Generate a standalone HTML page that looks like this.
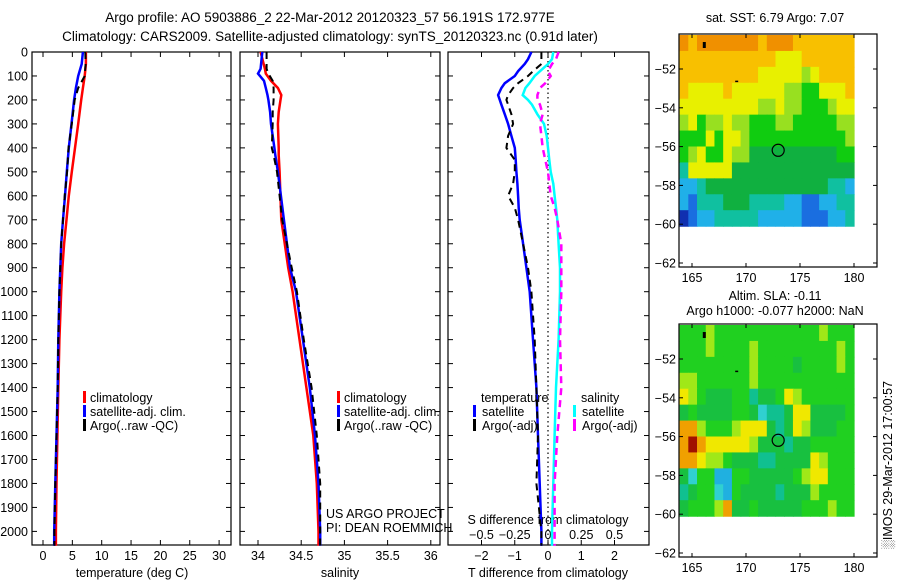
<!DOCTYPE html>
<html><head><meta charset="utf-8">
<style>
html,body{margin:0;padding:0;background:#fff;}
svg{display:block;font-family:"Liberation Sans",sans-serif;}
text{fill:#000;}
</style></head>
<body>
<svg id="fig" width="900" height="580" viewBox="0 0 900 580">
<text x="330" y="22" font-size="13.5" text-anchor="middle">Argo profile: AO 5903886_2 22-Mar-2012 20120323_57 56.191S 172.977E</text>
<text x="330" y="41" font-size="13.5" text-anchor="middle">Climatology: CARS2009. Satellite-adjusted climatology: synTS_20120323.nc (0.91d later)</text>
<g id="g"></g>
</svg>
<script>
// ---------- data ----------
const depthT = [0,50,100,150,200,300,400,500,600,700,800,900,1000,1200,1400,1600,1800,2000,2060];
const tempClim = [7.3,7.3,7.1,6.8,6.5,6.0,5.45,4.9,4.4,4.0,3.6,3.3,3.1,2.8,2.6,2.45,2.3,2.2,2.2];
const tempSat  = [6.8,6.6,6.0,5.6,5.3,4.85,4.4,4.05,3.75,3.4,3.1,2.95,2.8,2.6,2.5,2.3,2.1,1.9,1.9];
const tempArgo = [7.2,7.25,7.1,6.0,5.4,4.9,4.35,4.1,3.7,3.4,3.1,2.95,2.8,2.6,2.5,2.3,2.1,1.95,1.95];
const depthS = [0,70,90,120,150,180,200,250,300,400,430,500,700,900,1000,1200,1400,1600,1800,2000,2060];
const salClim = [34.03,34.08,34.09,34.15,34.23,34.27,34.26,34.24,34.23,34.24,34.24,34.25,34.27,34.35,34.4,34.48,34.56,34.64,34.68,34.70,34.70];
const salSat  = [34.05,34.03,34.0,34.07,34.09,34.11,34.12,34.14,34.15,34.19,34.2,34.23,34.3,34.37,34.44,34.52,34.6,34.66,34.7,34.72,34.72];
const salArgo = [34.1,34.1,34.12,34.17,34.18,34.18,34.18,34.17,34.17,34.16,34.18,34.22,34.28,34.39,34.45,34.53,34.62,34.68,34.72,34.72,34.72];
const depthD = [0,30,50,80,100,130,150,180,200,220,260,300,350,400,450,500,550,600,650,700,800,900,1000,1200,1400,1600,1800,2000,2060];
const dTsat  = [-0.5,-0.6,-0.7,-0.9,-1.0,-1.3,-1.4,-1.5,-1.45,-1.4,-1.3,-1.2,-1.1,-1.0,-0.97,-0.95,-0.92,-0.9,-0.88,-0.85,-0.75,-0.65,-0.55,-0.45,-0.35,-0.3,-0.25,-0.2,-0.2];
const dTargo = [-0.2,-0.2,-0.2,-0.45,-0.6,-0.9,-1.05,-1.2,-1.25,-1.2,-1.1,-1.05,-1.2,-1.25,-1.0,-1.0,-1.05,-1.2,-1.0,-0.9,-0.75,-0.6,-0.5,-0.4,-0.35,-0.3,-0.35,-0.2,-0.2];
const dSsat  = [0.04,0.03,0.0,-0.06,-0.1,-0.14,-0.17,-0.19,-0.15,-0.12,-0.08,-0.03,-0.01,0.0,0.01,0.02,0.04,0.05,0.06,0.07,0.08,0.09,0.09,0.08,0.06,0.05,0.04,0.03,0.03];
const dSargo = [0.08,0.06,0.03,0.0,0.02,-0.02,-0.06,-0.08,-0.08,-0.06,-0.04,-0.06,-0.05,-0.04,-0.02,0.0,0.01,0.02,0.05,0.07,0.1,0.1,0.1,0.09,0.1,0.07,0.05,0.05,0.05];
const depthTicks = [0,100,200,300,400,500,600,700,800,900,1000,1100,1200,1300,1400,1500,1600,1700,1800,1900,2000];
const tempTicks = [0,5,10,15,20,25,30];
const salTicks = [34,34.5,35,35.5,36];
const salTickLabels = ["34","34.5","35","35.5","36"];
const dTTicks = [-2,-1,0,1,2];
const dSTicks = [-0.5,-0.25,0,0.25,0.5];
const lonTicks = [165,170,175,180];
const latTicks = [-52,-54,-56,-58,-60,-62];
// map grids (20 cols x 12 rows, colour level 0-9)
const sstGrid = [
"98999999989998888888","88888888888777888888","88888888877777678888","87777877777766557778",
"77777777766766555677","67566766555665555566","55575776555555555556","56755766444444444455",
"37777744444444444444","22344444444444444332","21333444333322112233","01223333322222111223"];
const slaGrid = [
"55565555555555556555","55565555655555555565","55555555655554555565","66555555655555555555",
"76544455344576555555","45444455423347744445","88655567774347644455","89877777644434455555",
"88766544433444476555","42551155444445677555","34552154444344465555","45556844544444555655"];
const sstColors = ["#1030b0","#1a6ee0","#20b0e8","#10c0a0","#10b040","#10cc10","#98e020","#e8f000","#f8c000","#f09000"];
const slaColors = ["#1060e0","#20b0e0","#30d0d0","#10c090","#18c040","#20d020","#a0e818","#f0e800","#f0a000","#a01000"];

// ---------- helpers ----------
const NS="http://www.w3.org/2000/svg";
const G=document.getElementById('g');
function mk(tag,attrs,parent){const e=document.createElementNS(NS,tag);for(const k in attrs)e.setAttribute(k,attrs[k]);(parent||G).appendChild(e);return e;}
const Y0=52, DY=0.2397;
function yD(d){return Y0+d*DY;}
const BOT=545;

function panel(x0,x1,name){
  const r=mk('rect',{x:x0,y:Y0,width:x1-x0,height:BOT-Y0,fill:'none',stroke:'#000','stroke-width':1.2});
  
  
  depthTicks.forEach(d=>{
    mk('line',{x1:x0,x2:x0+5,y1:yD(d),y2:yD(d),stroke:'#000'});
    mk('line',{x1:x1-5,x2:x1,y1:yD(d),y2:yD(d),stroke:'#000'});
  });
}
function line(xs,ds,fx,color,dash,name,w){
  const pts=xs.map((v,i)=>fx(v).toFixed(1)+','+yD(ds[i]).toFixed(1)).join(' ');
  const p=mk('polyline',{points:pts,fill:'none',stroke:color,'stroke-width':w||2.5});
  if(dash)p.setAttribute('stroke-dasharray',dash);
  
  
}
function txt(x,y,s,anchor,size,name){
  const t=mk('text',{x:x,y:y,'font-size':size||12.5,'text-anchor':anchor||'start'});
  t.textContent=s;
  
  
  return t;
}
function legBar(x,y,color,name){
  const r=mk('rect',{x:x,y:y-10,width:3,height:12,fill:color});
  
  
}

// ---------- panel 1: temperature ----------
const xT=v=>43+v*5.87;
panel(32,231,'temperature-panel');
depthTicks.forEach(d=>txt(28,yD(d)+4.5,String(d),'end',12.5,'depth-tick-label'));
tempTicks.forEach(v=>{mk('line',{x1:xT(v),x2:xT(v),y1:BOT,y2:BOT-5,stroke:'#000'});mk('line',{x1:xT(v),x2:xT(v),y1:Y0,y2:Y0+5,stroke:'#000'});txt(xT(v),560,String(v),'middle',12.5,'temp-tick-label');});
txt(132,577,'temperature (deg C)','middle',12.5,'temp-axis-title');
line(tempClim,depthT,xT,'#f00',null,'temp-climatology-line');
line(tempSat,depthT,xT,'#00f',null,'temp-satellite-line');
line(tempArgo,depthT,xT,'#000','7,5','temp-argo-line',2);
legBar(83,401,'#f00','legend-climatology-swatch');txt(90,402,'climatology','start',12.5,'legend-climatology');
legBar(83,415,'#00f','legend-sat-swatch');txt(90,416,'satellite-adj. clim.','start',12.5,'legend-sat');
legBar(83,429,'#000','legend-argo-swatch');txt(90,430,'Argo(..raw -QC)','start',12.5,'legend-argo');

// ---------- panel 2: salinity ----------
const xS=v=>258+(v-34)*86.4;
panel(240,440,'salinity-panel');
salTicks.forEach((v,i)=>{mk('line',{x1:xS(v),x2:xS(v),y1:BOT,y2:BOT-5,stroke:'#000'});mk('line',{x1:xS(v),x2:xS(v),y1:Y0,y2:Y0+5,stroke:'#000'});txt(xS(v),560,salTickLabels[i],'middle',12.5,'sal-tick-label');});
txt(340,577,'salinity','middle',12.5,'sal-axis-title');
line(salClim,depthS,xS,'#f00',null,'sal-climatology-line');
line(salSat,depthS,xS,'#00f',null,'sal-satellite-line');
line(salArgo,depthS,xS,'#000','7,5','sal-argo-line',2);
legBar(337,401,'#f00','legend2-climatology-swatch');txt(344,402,'climatology','start',12.5,'legend2-climatology');
legBar(337,415,'#00f','legend2-sat-swatch');txt(344,416,'satellite-adj. clim.','start',12.5,'legend2-sat');
legBar(337,429,'#000','legend2-argo-swatch');txt(344,430,'Argo(..raw -QC)','start',12.5,'legend2-argo');
txt(326,518,'US ARGO PROJECT','start',12.5,'project-label');
txt(326,532,'PI: DEAN ROEMMICH','start',12.5,'pi-label');

// ---------- panel 3: differences ----------
const xDT=v=>548+v*33.25;
const xDS=v=>548+v*133;
panel(448,649,'difference-panel');
mk('line',{x1:548,x2:548,y1:Y0,y2:BOT,stroke:'#000','stroke-dasharray':'1.5,3','stroke-width':1.2});
dTTicks.forEach(v=>{mk('line',{x1:xDT(v),x2:xDT(v),y1:BOT,y2:BOT-5,stroke:'#000'});mk('line',{x1:xDT(v),x2:xDT(v),y1:Y0,y2:Y0+5,stroke:'#000'});txt(xDT(v),560,v<0?'\u2212'+Math.abs(v):String(v),'middle',12.5,'dt-tick-label');});
dSTicks.forEach(v=>txt(xDS(v),539,v<0?'\u2212'+Math.abs(v):String(v),'middle',12.5,'ds-tick-label'));
txt(548,524,'S difference from climatology','middle',12.5,'ds-axis-title');
txt(548,577,'T difference from climatology','middle',12.5,'dt-axis-title');
line(dTsat,depthD,xDT,'#00f',null,'dt-satellite-line');
line(dTargo,depthD,xDT,'#000','7,5','dt-argo-line',2);
line(dSsat,depthD,xDS,'#0ff',null,'ds-satellite-line');
line(dSargo,depthD,xDS,'#f0f','7,5','ds-argo-line',2.5);
txt(481,402,'temperature','start',12.5,'legend3-temp-title');
legBar(473,415,'#00f','legend3-tsat-swatch');txt(482,416,'satellite','start',12.5,'legend3-tsat');
legBar(473,429,'#000','legend3-targo-swatch');txt(482,430,'Argo(-adj)','start',12.5,'legend3-targo');
txt(581,402,'salinity','start',12.5,'legend3-sal-title');
legBar(573,415,'#0ff','legend3-ssat-swatch');txt(582,416,'satellite','start',12.5,'legend3-ssat');
legBar(573,429,'#f0f','legend3-sargo-swatch');txt(582,430,'Argo(-adj)','start',12.5,'legend3-sargo');

// ---------- maps ----------
function map(top,grid,colors,name){
  const L=679,R=877,B=top+233;
  const xLon=v=>692+(v-165)*10.8;
  const yl=s=>top+35+(s-52)*19.4;   // s = degrees south
  const gx0=xLon(163.85), gx1=xLon(180), gy0=top+1, gy1=yl(60.1);
  const cw=(gx1-gx0)/20, ch=(gy1-gy0)/12;
  const g=mk('g',{});
  
  
  grid.forEach((row,r)=>{for(let c=0;c<row.length;c++){
    mk('rect',{x:(gx0+c*cw).toFixed(2),y:(gy0+r*ch).toFixed(2),width:(cw+0.6).toFixed(2),height:(ch+0.6).toFixed(2),fill:colors[+row[c]]},g);
  }});
  const fr=mk('rect',{x:L,y:top,width:R-L,height:B-top,fill:'none',stroke:'#000','stroke-width':1.2});
  
  
  lonTicks.forEach(v=>{mk('line',{x1:xLon(v),x2:xLon(v),y1:B,y2:B-4,stroke:'#000'});mk('line',{x1:xLon(v),x2:xLon(v),y1:top,y2:top+4,stroke:'#000'});txt(xLon(v),B+15,String(v),'middle',12.5,name+'-lon-label');});
  latTicks.forEach(v=>{mk('line',{x1:L,x2:L+4,y1:yl(-v),y2:yl(-v),stroke:'#000'});mk('line',{x1:R-4,x2:R,y1:yl(-v),y2:yl(-v),stroke:'#000'});txt(676,yl(-v)+4.5,'\u2212'+Math.abs(v),'end',12.5,name+'-lat-label');});
  const c=mk('circle',{cx:xLon(172.98),cy:yl(56.19),r:6,fill:'none',stroke:'#000','stroke-width':1.2});
  
  
  mk('rect',{x:xLon(166),y:top+8,width:3,height:6,fill:'#000'});
  mk('rect',{x:xLon(169),y:yl(52.6),width:3,height:1.5,fill:'#000'});
}
map(34,sstGrid,sstColors,'sst-map');
txt(775,22,'sat. SST: 6.79 Argo: 7.07','middle',12.5,'sst-map-title');
map(324,slaGrid,slaColors,'sla-map');
txt(775,300,'Altim. SLA: -0.11','middle',12.5,'sla-map-title');
txt(775,315,'Argo h1000: -0.077 h2000: NaN','middle',12.5,'sla-map-subtitle');
const st=txt(0,0,'\u2591IMOS 29-Mar-2012 17:00:57','middle',12.5,'timestamp-label');
st.setAttribute('transform','translate(892,465) rotate(-90)');
</script>
</body></html>
